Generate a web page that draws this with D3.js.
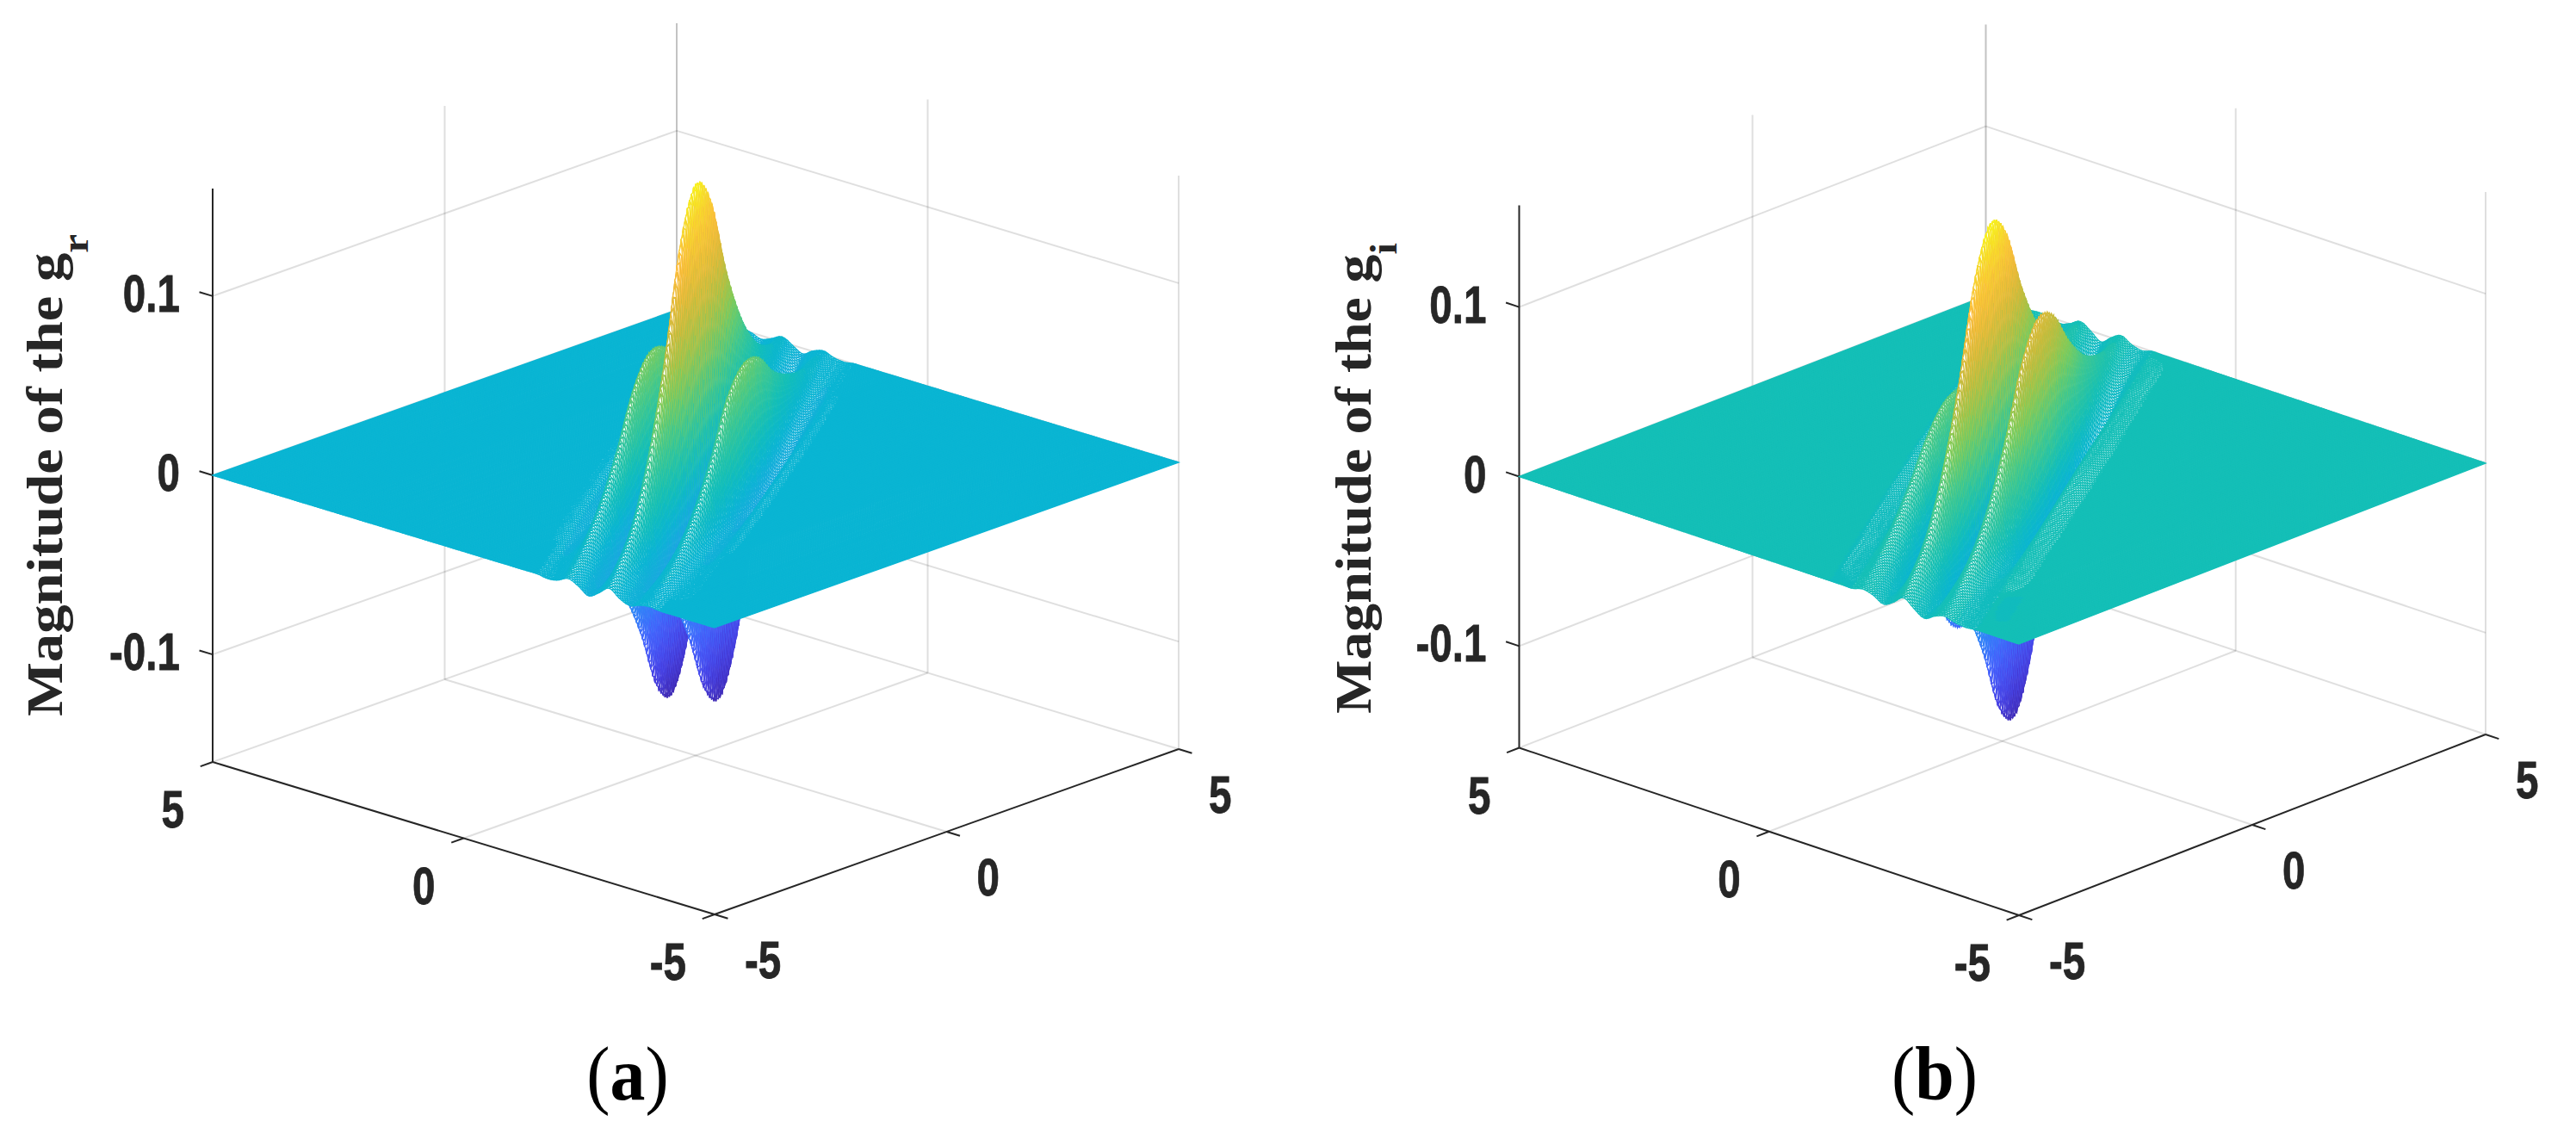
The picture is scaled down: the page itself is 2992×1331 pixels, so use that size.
<!DOCTYPE html>
<html>
<head>
<meta charset="utf-8">
<script src="https://cdn.jsdelivr.net/npm/d3@7"></script>
<style>
  body { margin: 0; background: #fff; }
  svg { display: block; }
</style>
</head>
<body>
<div id="chart"></div>
<script>
// axis ticks
var planeTicks = [-5, 0, 5];
var planeTickLabels = ["-5", "0", "5"];
var heightTicks = [-0.1, 0, 0.1];
var heightTickLabels = ["-0.1", "0", "0.1"];

// the surface heights are read off on a table that follows the ridges:
// one row per position along the ridge, one column per position across it
var alongStops = [-7, -6, -5, -4, -3, -2, -1, 0, 1, 2, 3, 4, 5, 6, 7];
var acrossStops = [-1.42, -1.24, -1.07, -0.89, -0.71, -0.53, -0.36, -0.18, 0, 0.18, 0.36, 0.53, 0.71, 0.89, 1.07, 1.24, 1.42];

// real part, panel (a)
var heightsReal = [
  [0, 0, 0, 0, 0, 0, 0, 0, 0, 0, 0, 0, 0, 0, 0, 0, 0],
  [0, 0, 0, 0, .001, 0, -.002, 0, .003, 0, -.002, 0, .001, 0, 0, 0, 0],
  [0, 0, -.001, 0, .004, 0, -.007, 0, .010, 0, -.007, 0, .004, 0, -.001, 0, 0],
  [0, 0, -.002, 0, .009, 0, -.017, 0, .022, 0, -.017, 0, .009, 0, -.002, 0, 0],
  [0, 0, -.004, 0, .019, 0, -.038, 0, .048, 0, -.038, 0, .019, 0, -.004, 0, 0],
  [0, 0, -.007, 0, .034, 0, -.070, 0, .087, 0, -.070, 0, .034, 0, -.007, 0, 0],
  [0, 0, -.011, 0, .054, 0, -.110, 0, .138, 0, -.110, 0, .054, 0, -.011, 0, 0],
  [0, 0, -.013, 0, .062, 0, -.127, 0, .159, 0, -.127, 0, .060, 0, -.013, 0, 0],
  [0, 0, -.011, 0, .054, 0, -.110, 0, .138, 0, -.110, 0, .052, 0, -.011, 0, 0],
  [0, 0, -.007, 0, .034, 0, -.070, 0, .087, 0, -.070, 0, .032, 0, -.007, 0, 0],
  [0, 0, -.004, 0, .019, 0, -.038, 0, .048, 0, -.038, 0, .018, 0, -.004, 0, 0],
  [0, 0, -.002, 0, .009, 0, -.017, 0, .022, 0, -.017, 0, .008, 0, -.002, 0, 0],
  [0, 0, -.001, 0, .003, 0, -.006, 0, .008, 0, -.006, 0, .003, 0, -.001, 0, 0],
  [0, 0, 0, 0, .001, 0, -.002, 0, .002, 0, -.002, 0, .001, 0, 0, 0, 0],
  [0, 0, 0, 0, 0, 0, 0, 0, 0, 0, 0, 0, 0, 0, 0, 0, 0]
];

// imaginary part, panel (b)
var heightsImag = [
  [0, 0, 0, 0, 0, 0, 0, 0, 0, 0, 0, 0, 0, 0, 0, 0, 0],
  [0, 0, 0, .001, 0, -.002, 0, .003, 0, -.003, 0, .002, 0, -.001, 0, 0, 0],
  [0, 0, 0, .002, 0, -.005, 0, .009, 0, -.009, 0, .005, 0, -.002, 0, 0, 0],
  [0, -.001, 0, .005, 0, -.013, 0, .020, 0, -.020, 0, .013, 0, -.005, 0, .001, 0],
  [0, -.001, 0, .011, 0, -.027, 0, .044, 0, -.044, 0, .027, 0, -.011, 0, .001, 0],
  [0, -.002, 0, .020, 0, -.050, 0, .080, 0, -.080, 0, .050, 0, -.020, 0, .002, 0],
  [0, -.003, 0, .031, 0, -.079, 0, .126, 0, -.126, 0, .079, 0, -.031, 0, .003, 0],
  [0, -.004, 0, .036, 0, -.091, 0, .145, 0, -.145, 0, .091, 0, -.036, 0, .004, 0],
  [0, -.003, 0, .031, 0, -.079, 0, .126, 0, -.126, 0, .079, 0, -.031, 0, .003, 0],
  [0, -.002, 0, .020, 0, -.050, 0, .080, 0, -.080, 0, .050, 0, -.020, 0, .002, 0],
  [0, -.001, 0, .011, 0, -.027, 0, .044, 0, -.044, 0, .027, 0, -.011, 0, .001, 0],
  [0, -.001, 0, .005, 0, -.013, 0, .020, 0, -.020, 0, .013, 0, -.005, 0, .001, 0],
  [0, 0, 0, .002, 0, -.005, 0, .009, 0, -.009, 0, .005, 0, -.002, 0, 0, 0],
  [0, 0, 0, .001, 0, -.002, 0, .003, 0, -.003, 0, .002, 0, -.001, 0, 0, 0],
  [0, 0, 0, 0, 0, 0, 0, 0, 0, 0, 0, 0, 0, 0, 0, 0, 0]
];

// figure properties
var Width = 2992;
var Height = 1331;
var MeshStep = 0.05; // spacing of the drawn mesh
var RidgeCos = 0.864; // direction of the ridges on the ground plane
var RidgeSin = 0.503;
var HeightLimit = 0.16; // z axis runs from -limit to +limit
var TickFont = "'Liberation Sans', Arial, sans-serif";
var LabelFont = "'Liberation Serif', 'Times New Roman', serif";
var InkColor = "#262626";

// 64 level colormap
var rampAt = [0, 0.095, 0.19, 0.286, 0.38, 0.445, 0.508, 0.587, 0.667, 0.746, 0.825, 0.873, 0.937, 1];
var rampColors = ["#3e26a8", "#4741e5", "#4563fd", "#2e87f7", "#20a5e3", "#0ab5d3", "#14bfb7", "#3fc890", "#80cc59", "#bfbc3d", "#e9ba38", "#fdbd3c", "#f5d92b", "#f9fb15"];
var rampScale = d3.scaleLinear().domain(rampAt).range(rampColors);
var rampLevels = d3.quantize(rampScale, 64);

// the two panels
var panels = [
  {
    heights: heightsReal, front: [830, 1062], toRight: [539, -192], toLeft: [-583, -177], wall: 666,
    sub: "r", labelX: 72, labelY: 832, labelStretch: 1.11,
    caption: "a", captionX: 729
  },
  {
    heights: heightsImag, front: [2345, 1063], toRight: [542, -210], toLeft: [-580.5, -194.5], wall: 630,
    sub: "i", labelX: 1592, labelY: 829, labelStretch: 1.10,
    caption: "b", captionX: 2247
  }
];

var svg = d3.select("#chart").append("svg")
  .attr("width", Width)
  .attr("height", Height);

// catmull-rom smoothing between four neighbouring table values
function smooth(a, b, c, d, f) {
  return 0.5 * (2 * b + (c - a) * f + (2 * a - 5 * b + 4 * c - d) * f * f + (3 * b - a - 3 * c + d) * f * f * f);
}

// surface height at a ground position, from the table
function makeSurface(table) {
  var alongIndex = d3.scaleLinear().domain(alongStops).range(d3.range(alongStops.length));
  var acrossIndex = d3.scaleLinear().domain(acrossStops).range(d3.range(acrossStops.length));
  var lastRow = alongStops.length - 1;
  var lastCol = acrossStops.length - 1;

  function cell(r, c) {
    return table[Math.max(0, Math.min(lastRow, r))][Math.max(0, Math.min(lastCol, c))];
  }

  return function(u, v) {
    var along = u * RidgeCos + v * RidgeSin;
    var across = u * RidgeSin - v * RidgeCos;
    if (Math.abs(along) >= 7 || Math.abs(across) >= 1.42) return 0;
    var ri = alongIndex(along), ci = acrossIndex(across);
    var r = Math.floor(ri), c = Math.floor(ci);
    var fr = ri - r, fc = ci - c;
    var rows = [-1, 0, 1, 2].map(function(dr) {
      return smooth(cell(r + dr, c - 1), cell(r + dr, c), cell(r + dr, c + 1), cell(r + dr, c + 2), fc);
    });
    return smooth(rows[0], rows[1], rows[2], rows[3], fr);
  };
}

function drawPanel(panel) {
  var g = svg.append("g");
  var uScale = d3.scaleLinear().domain([-5, 5]).range([0, 1]);
  var vScale = d3.scaleLinear().domain([-5, 5]).range([0, 1]);
  var zScale = d3.scaleLinear().domain([-HeightLimit, HeightLimit]).range([0, panel.wall]);

  // screen position of a point of the box
  function project(u, v, z) {
    return [
      panel.front[0] + uScale(u) * panel.toRight[0] + vScale(v) * panel.toLeft[0],
      panel.front[1] + uScale(u) * panel.toRight[1] + vScale(v) * panel.toLeft[1] - zScale(z)
    ];
  }
  var line = d3.line();
  var lim = HeightLimit;

  // grid lines on the back walls and the floor
  var gridLines = [];
  [0, 5].forEach(function(u) { gridLines.push([[u, 5, -lim], [u, 5, lim]]); });
  planeTicks.forEach(function(v) { gridLines.push([[5, v, -lim], [5, v, lim]]); });
  heightTicks.forEach(function(z) {
    gridLines.push([[-5, 5, z], [5, 5, z]]);
    gridLines.push([[5, 5, z], [5, -5, z]]);
  });
  [0, 5].forEach(function(u) { gridLines.push([[u, -5, -lim], [u, 5, -lim]]); });
  [0, 5].forEach(function(v) { gridLines.push([[-5, v, -lim], [5, v, -lim]]); });

  g.append("g").selectAll("path")
    .data(gridLines)
    .enter().append("path")
    .attr("d", function(d) { return line(d.map(function(p) { return project(p[0], p[1], p[2]); })); })
    .attr("fill", "none")
    .attr("stroke", InkColor)
    .attr("stroke-opacity", 0.15)
    .attr("stroke-width", 2);

  // axis lines and ticks
  var axisLines = [
    [[-5, 5, -lim], [-5, 5, lim]],
    [[-5, 5, -lim], [-5, -5, -lim]],
    [[-5, -5, -lim], [5, -5, -lim]]
  ];
  planeTicks.forEach(function(t) {
    axisLines.push([[-5, t, -lim], [-5.265, t, -lim]]);
    axisLines.push([[t, -5, -lim], [t, -5.265, -lim]]);
  });
  heightTicks.forEach(function(z) { axisLines.push([[-5, 5, z], [-5, 5.265, z]]); });

  g.append("g").selectAll("path")
    .data(axisLines)
    .enter().append("path")
    .attr("d", function(d) { return line(d.map(function(p) { return project(p[0], p[1], p[2]); })); })
    .attr("fill", "none")
    .attr("stroke", InkColor)
    .attr("stroke-width", 2);

  // surface heights on the mesh
  var surface = makeSurface(panel.heights);
  var steps = d3.range(0, 201).map(function(i) { return -5 + i * MeshStep; });
  var mesh = steps.map(function(v) { return steps.map(function(u) { return surface(u, v); }); });
  var colorScale = d3.scaleQuantize().domain(d3.extent(panel.heights.flat())).range(rampLevels);

  // runs of cells of one colour, from the back of the box to the front
  var runs = [];
  for (var j = steps.length - 2; j >= 0; j--) {
    var run = null;
    for (var i = steps.length - 2; i >= 0; i--) {
      var corners = [mesh[j][i], mesh[j][i + 1], mesh[j + 1][i], mesh[j + 1][i + 1]];
      var flat = d3.max(corners, Math.abs) < 0.0002;
      var color = colorScale(d3.mean(corners));
      if (!run || run.color != color || run.flat != flat) {
        run = {color: color, flat: flat, cells: [], j: j};
        runs.push(run);
      }
      run.cells.push(i);
    }
  }

  function cellPath(i, j, iEnd) {
    return line([
      project(steps[i], steps[j], mesh[j][i]),
      project(steps[iEnd + 1], steps[j], mesh[j][iEnd + 1]),
      project(steps[iEnd + 1], steps[j + 1], mesh[j + 1][iEnd + 1]),
      project(steps[i], steps[j + 1], mesh[j + 1][i])
    ]) + "Z";
  }

  g.append("g").selectAll("path")
    .data(runs)
    .enter().append("path")
    .attr("d", function(d) {
      if (d.flat) {
        return cellPath(d.cells[d.cells.length - 1], d.j, d.cells[0]);
      }
      return d.cells.map(function(i) { return cellPath(i, d.j, i); }).join("");
    })
    .attr("fill", function(d) { return d.flat ? d.color : "#fff"; })
    .attr("stroke", function(d) { return d.color; })
    .attr("stroke-width", 1.3);

  // tick labels, squeezed sideways like the picture
  function tickLabel(anchor, text, pos, dx, dy) {
    g.append("text")
      .attr("transform", "translate(" + (pos[0] + dx) + "," + (pos[1] + dy) + ") scale(0.78,1)")
      .attr("text-anchor", anchor)
      .attr("font-family", TickFont)
      .attr("font-weight", "bold")
      .attr("font-size", 61)
      .attr("fill", InkColor)
      .attr("stroke", InkColor)
      .attr("stroke-width", 0.8)
      .text(text);
  }
  planeTicks.forEach(function(t, i) {
    tickLabel("end", planeTickLabels[i], project(-5, t, -lim), -33, 76);
    tickLabel("start", planeTickLabels[i], project(t, -5, -lim), 35, 74);
  });
  heightTicks.forEach(function(z, i) {
    tickLabel("end", heightTickLabels[i], project(-5, 5, z), -38, 18);
  });

  // z axis label
  var label = g.append("text")
    .attr("transform", "translate(" + panel.labelX + "," + panel.labelY + ") rotate(-90) scale(" + panel.labelStretch + ",1)")
    .attr("font-family", LabelFont)
    .attr("font-weight", "bold")
    .attr("font-size", 60)
    .attr("fill", InkColor)
    .text("Magnitude of the g");
  label.append("tspan")
    .attr("dy", 30)
    .attr("font-size", 44)
    .text(panel.sub);

  // panel caption
  var caption = g.append("text")
    .attr("transform", "translate(" + panel.captionX + ",1277) scale(0.93,1)")
    .attr("text-anchor", "middle")
    .attr("font-family", LabelFont)
    .attr("font-size", 88)
    .attr("fill", "#000");
  caption.append("tspan").text("(");
  caption.append("tspan").attr("font-weight", "bold").text(panel.caption);
  caption.append("tspan").text(")");
}

panels.forEach(drawPanel);
</script>
</body>
</html>
